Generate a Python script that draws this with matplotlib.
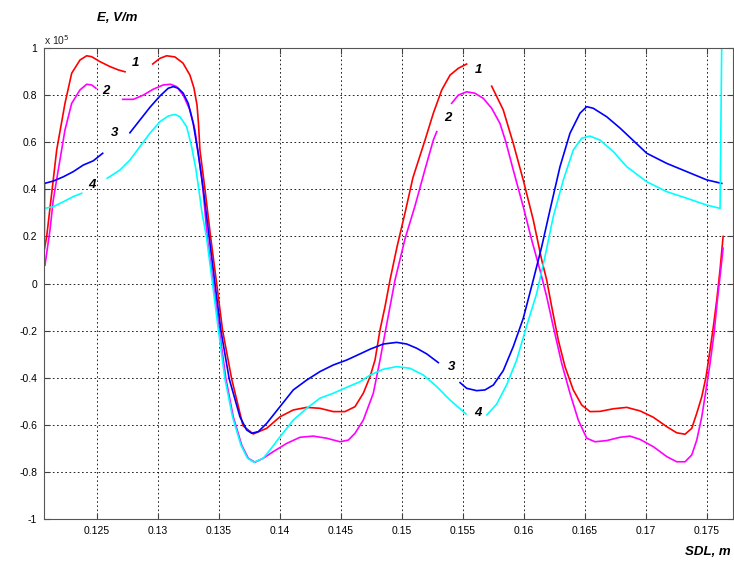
import numpy as np
import matplotlib
matplotlib.use("Agg")
import matplotlib.pyplot as plt

nan = np.nan

# Curve 1 (red)
red_x = [0.12067, 0.12088, 0.12129, 0.12170, 0.12238, 0.12293, 0.12361, 0.12416, 0.12457, 0.12525,
         0.12607, 0.12675, 0.12730, nan,
         0.12957, 0.13016, 0.13071, 0.13139, 0.13205, 0.13262, 0.13295, 0.13320, 0.13332, 0.13344,
         0.13385, 0.13432, 0.13481, 0.13530, 0.13604, 0.13697, 0.13781, 0.13891, 0.14000, 0.14109,
         0.14219, 0.14328, 0.14437, 0.14533, 0.14615, 0.14683, 0.14738, 0.14779, 0.14820, 0.14861,
         0.14902, 0.14959, 0.15025, 0.15090, 0.15189, 0.15257, 0.15326, 0.15394, 0.15462, 0.15530, nan,
         0.15735, 0.15830, 0.15912, 0.15994, 0.16076, 0.16145, 0.16186, 0.16227, 0.16281, 0.16336,
         0.16404, 0.16473, 0.16541, 0.16623, 0.16732, 0.16842, 0.16951, 0.17060, 0.17170, 0.17252,
         0.17320, 0.17375, 0.17416, 0.17457, 0.17492, 0.17525, 0.17552, 0.17580, 0.17607, 0.17632]
red_y = [0.14, 0.199, 0.383, 0.567, 0.765, 0.893, 0.949, 0.967, 0.963, 0.942,
         0.921, 0.907, 0.899, nan,
         0.932, 0.956, 0.967, 0.962, 0.936, 0.885, 0.830, 0.758, 0.68, 0.567,
         0.401, 0.196, 0.0, -0.2, -0.405, -0.604, -0.639, -0.615, -0.566, -0.537,
         -0.526, -0.530, -0.544, -0.544, -0.523, -0.466, -0.396, -0.325, -0.197, -0.098,
         0.015, 0.155, 0.30, 0.45, 0.609, 0.723, 0.822, 0.885, 0.914, 0.932, nan,
         0.838, 0.737, 0.595, 0.439, 0.270, 0.10, 0.015, -0.098, -0.24, -0.353,
         -0.452, -0.516, -0.544, -0.543, -0.532, -0.526, -0.541, -0.568, -0.608, -0.634,
         -0.640, -0.615, -0.551, -0.481, -0.396, -0.282, -0.183, -0.07, 0.06, 0.2]

# Curve 2 (magenta)
mag_x = [0.12074, 0.12115, 0.12142, 0.12183, 0.12238, 0.12293, 0.12361, 0.12416, 0.12457, 0.12492, nan,
         0.12711, 0.12798, 0.12880, 0.12961, 0.13043, 0.13104, 0.13153, 0.13207, 0.13262, 0.13303,
         0.13330, 0.13358, 0.13377, 0.13404, 0.13453, 0.13503, 0.13557, 0.13617, 0.13686, 0.13740,
         0.13795, 0.13863, 0.13945, 0.14055, 0.14164, 0.14273, 0.14383, 0.14492, 0.14560, 0.14615,
         0.14683, 0.14765, 0.14820, 0.14861, 0.14902, 0.14943, 0.15025, 0.15107, 0.15189, 0.15257,
         0.15285, nan,
         0.15407, 0.15462, 0.15530, 0.15598, 0.15667, 0.15735, 0.15803, 0.15852, 0.15912, 0.15994,
         0.16063, 0.16131, 0.16186, 0.16240, 0.16309, 0.16377, 0.16445, 0.16514, 0.16582, 0.16678,
         0.16787, 0.16869, 0.16951, 0.17060, 0.17170, 0.17252, 0.17320, 0.17375, 0.17416, 0.17457,
         0.17492, 0.17525, 0.17558, 0.17585, 0.17611, 0.17632]
mag_y = [0.078, 0.227, 0.355, 0.482, 0.652, 0.765, 0.822, 0.846, 0.843, 0.829, nan,
         0.782, 0.782, 0.80, 0.825, 0.843, 0.846, 0.836, 0.80, 0.737, 0.652,
         0.553, 0.453, 0.355, 0.196, 0.0, -0.2, -0.405, -0.566, -0.686, -0.742,
         -0.759, -0.742, -0.714, -0.679, -0.653, -0.648, -0.657, -0.672, -0.665, -0.636,
         -0.58, -0.466, -0.325, -0.211, -0.098, 0.015, 0.19, 0.33, 0.485, 0.609,
         0.645, nan,
         0.765, 0.80, 0.814, 0.808, 0.786, 0.744, 0.68, 0.60, 0.482, 0.326,
         0.185, 0.057, -0.056, -0.183, -0.339, -0.466, -0.58, -0.657, -0.672, -0.667,
         -0.653, -0.648, -0.662, -0.693, -0.735, -0.757, -0.757, -0.728, -0.665, -0.566,
         -0.452, -0.339, -0.211, -0.07, 0.05, 0.15]

# Curve 3 (blue)
blue_x = [0.12066, 0.12070, 0.12142, 0.12224, 0.12306, 0.12388, 0.12470, 0.12547, nan,
          0.12770, 0.12852, 0.12934, 0.13016, 0.13084, 0.13125, 0.13166, 0.13207, 0.13248, 0.13289,
          0.13330, 0.13371, 0.13420, 0.13467, 0.13516, 0.13584, 0.13672, 0.13727, 0.13768, 0.13822,
          0.13891, 0.14000, 0.14109, 0.14219, 0.14328, 0.14437, 0.14547, 0.14656, 0.14738, 0.14847,
          0.14957, 0.15039, 0.15121, 0.15203, 0.15298, nan,
          0.15476, 0.15530, 0.15612, 0.15680, 0.15749, 0.15830, 0.15912, 0.15994, 0.16076, 0.16145,
          0.16213, 0.16295, 0.16377, 0.16459, 0.16514, 0.16568, 0.16678, 0.16787, 0.16869, 0.17006,
          0.17170, 0.17334, 0.17498, 0.17621]
blue_y = [-0.08, 0.425, 0.435, 0.453, 0.475, 0.503, 0.521, 0.553, nan,
          0.640, 0.694, 0.748, 0.796, 0.829, 0.836, 0.829, 0.808, 0.765, 0.68,
          0.553, 0.401, 0.196, 0.0, -0.2, -0.405, -0.566, -0.622, -0.636, -0.629,
          -0.594, -0.523, -0.452, -0.41, -0.374, -0.346, -0.325, -0.299, -0.279, -0.257,
          -0.25, -0.257, -0.275, -0.299, -0.336, nan,
          -0.421, -0.445, -0.455, -0.452, -0.431, -0.370, -0.268, -0.148, 0.015, 0.156,
          0.312, 0.496, 0.638, 0.723, 0.751, 0.744, 0.708, 0.660, 0.620, 0.553,
          0.51, 0.475, 0.44, 0.425]

# Curve 4 (cyan)
cyan_x = [0.12066, 0.12070, 0.12142, 0.12224, 0.12306, 0.12375, nan,
          0.12584, 0.12689, 0.12770, 0.12852, 0.12934, 0.13016, 0.13084, 0.13139, 0.13180, 0.13235,
          0.13276, 0.13312, 0.13340, 0.13361, 0.13398, 0.13447, 0.13496, 0.13549, 0.13611, 0.13680,
          0.13734, 0.13787, 0.13863, 0.13918, 0.14000, 0.14109, 0.14219, 0.14328, 0.14437, 0.14547,
          0.14656, 0.14738, 0.14847, 0.14957, 0.15066, 0.15176, 0.15285, 0.15394, 0.15525, nan,
          0.15696, 0.15776, 0.15858, 0.15940, 0.16022, 0.16104, 0.16172, 0.16240, 0.16322, 0.16404,
          0.16473, 0.16541, 0.16623, 0.16732, 0.16842, 0.17006, 0.17170, 0.17334, 0.17498, 0.17607,
          0.17630]
cyan_y = [-0.05, 0.319, 0.326, 0.347, 0.369, 0.383, nan,
          0.447, 0.482, 0.524, 0.581, 0.638, 0.687, 0.711, 0.718, 0.708, 0.666,
          0.581, 0.482, 0.38, 0.30, 0.196, 0.0, -0.2, -0.405, -0.566, -0.686,
          -0.742, -0.759, -0.742, -0.707, -0.651, -0.58, -0.53, -0.487, -0.466, -0.441,
          -0.417, -0.389, -0.364, -0.353, -0.36, -0.389, -0.438, -0.495, -0.554, nan,
          -0.558, -0.512, -0.43, -0.325, -0.18, -0.042, 0.114, 0.284, 0.439, 0.567,
          0.617, 0.626, 0.609, 0.56, 0.496, 0.432, 0.39, 0.362, 0.333, 0.319,
          1.5]

curve_labels = ["1", "1", "2", "2", "3", "3", "4", "4"]
label_x = [0.12812, 0.15623, 0.12574, 0.15377, 0.12648, 0.15410, 0.12459, 0.15623]
label_y = [0.936, 0.907, 0.817, 0.703, 0.639, -0.355, 0.418, -0.550]

xticks = [0.125, 0.13, 0.135, 0.14, 0.145, 0.15, 0.155, 0.16, 0.165, 0.17, 0.175]
xtick_labels = ["0.125", "0.13", "0.135", "0.14", "0.145", "0.15", "0.155", "0.16", "0.165", "0.17", "0.175"]
yticks = [-1, -0.8, -0.6, -0.4, -0.2, 0, 0.2, 0.4, 0.6, 0.8, 1]
ytick_labels = ["-1", "-0.8", "-0.6", "-0.4", "-0.2", "0", "0.2", "0.4", "0.6", "0.8", "1"]

plt.rcParams['font.family'] = ['Liberation Sans', 'DejaVu Sans']

fig = plt.figure(figsize=(7.34, 5.66), dpi=100)
ax = fig.add_axes([44 / 734, 47 / 566, 689 / 734, 471 / 566])

lw = 1.2
ax.plot(red_x, red_y, color='#ff0000', lw=lw)
ax.plot(mag_x, mag_y, color='#ff00ff', lw=lw)
ax.plot(blue_x, blue_y, color='#0000ff', lw=lw)
ax.plot(cyan_x, cyan_y, color='#00ffff', lw=lw)

for t, x, y in zip(curve_labels, label_x, label_y):
    ax.text(x, y, t, fontsize=9.5, fontweight='bold', fontstyle='italic',
            ha='center', va='center', color='black')

ax.set_xlim(0.12066, 0.17713)
ax.set_ylim(-1, 1)
ax.set_xticks(xticks)
ax.set_xticklabels(xtick_labels)
ax.set_yticks(yticks)
ax.set_yticklabels(ytick_labels)
ax.grid(True, color='black', linestyle=(0, (2, 3)), linewidth=0.6)
ax.tick_params(direction='in', length=4, labelsize=7.5, top=True, right=True,
               colors='#404040', labelcolor='black', pad=5)
for s in ax.spines.values():
    s.set_color('#555555')
    s.set_linewidth(0.8)

fig.text(97 / 734, 1 - 18 / 566, "E, V/m", fontsize=9.5, fontweight='bold',
         fontstyle='italic', ha='left', va='center')
fig.text(44 / 734, 1 - 40 / 566, r"x 10$^{5}$", fontsize=7.5, ha='left', va='center',
         color='#222222')
fig.text(731 / 734, 1 - 552 / 566, "SDL, m", fontsize=9.5, fontweight='bold',
         fontstyle='italic', ha='right', va='center')

fig.savefig("out.png", dpi=100, facecolor='white')
